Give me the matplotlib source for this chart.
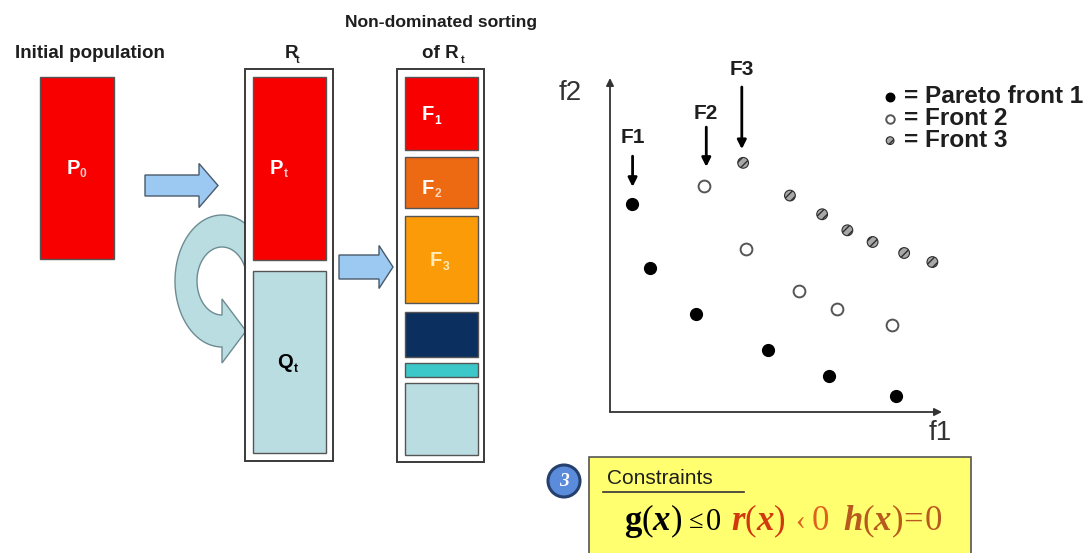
"""
NSGA-II style diagram: population -> R_t -> non-dominated sorting,
plus a small f1/f2 scatter of three Pareto fronts and a constraints box.
"""

import matplotlib
matplotlib.use("Agg")
import matplotlib.pyplot as plt
import numpy as np
from matplotlib.patches import Rectangle, Polygon, FancyArrow, Circle
from matplotlib.lines import Line2D

plt.rcParams["font.family"] = ["Liberation Sans", "DejaVu Sans"]
plt.rcParams["mathtext.fontset"] = "custom"
plt.rcParams["mathtext.rm"] = "Liberation Serif"
plt.rcParams["mathtext.it"] = "Liberation Serif:italic:bold"
plt.rcParams["mathtext.bf"] = "Liberation Serif:bold"

# ---------------------------------------------------------------- data
# objective values (f1, f2) of each front
front1_f1 = [0.65, 1.20, 2.58, 4.77, 6.60, 8.61]
front1_f2 = [6.22, 4.30, 2.94, 1.85, 1.09, 0.48]
front2_f1 = [2.84, 4.10, 5.68, 6.84, 8.49]
front2_f2 = [6.77, 4.88, 3.63, 3.09, 2.60]
front3_f1 = [4.01, 5.42, 6.39, 7.15, 7.91, 8.86, 9.71]
front3_f2 = [7.46, 6.48, 5.92, 5.44, 5.09, 4.76, 4.49]

front_names = ["F1", "F2", "F3"]
legend_labels = ["= Pareto front 1", "= Front 2", "= Front 3"]

# sorted sub-populations (top -> bottom) of R_t
sort_colors = ["#F80000", "#EE6A12", "#FB9B08", "#0B305F", "#3CC8C8", "#BADDE2"]

W, H = 1091, 553
RED = "#F80000"
LIGHT = "#BADDE2"
BLUE = "#9CC9F2"
EDGE = "#555555"
TXT = "#1E1E1E"

fig = plt.figure(figsize=(W / 100, H / 100), dpi=100)
fig.patch.set_facecolor("white")
ax = fig.add_axes([0, 0, 1, 1])
ax.set_xlim(0, W)
ax.set_ylim(H, 0)
ax.axis("off")


def box(x0, y0, x1, y1, color, ec=EDGE, lw=1.0, z=3):
    ax.add_patch(Rectangle((x0, y0), x1 - x0, y1 - y0, facecolor=color,
                           edgecolor=ec, lw=lw, zorder=z))


def sub_label(xm, ym, main, xs, sub, color, subcolor, size=14.5):
    ax.text(xm, ym, main, ha="center", va="center", color=color,
            fontsize=size, fontweight="bold", zorder=6)
    ax.text(xs, ym + 6, sub, ha="center", va="center", color=subcolor,
            fontsize=size * 0.6, fontweight="bold", zorder=6)


# ---------------------------------------------------------------- left part
ax.text(90, 53, "Initial population", ha="center", va="center",
        fontsize=13.5, fontweight="bold", color=TXT)
box(40, 77, 114, 259, RED)
sub_label(73, 168, "P", 83, "0", "white", "#F6C6C6")

ax.add_patch(FancyArrow(145, 185.5, 73, 0, width=21, head_width=44,
                        head_length=19, length_includes_head=True,
                        facecolor=BLUE, edgecolor="#4A5A6A", lw=1.0, zorder=3))

# curved (C-shaped) arrow feeding Q_t back, drawn under the R_t box
cx, cy = 222, 281
ang = np.radians(np.linspace(20, 270, 80))
outer = np.column_stack([cx + 47 * np.cos(ang), cy - 66 * np.sin(ang)])
inner = np.column_stack([cx + 25 * np.cos(ang), cy - 34 * np.sin(ang)])[::-1]
head = np.array([[222, 363], [246, 331], [222, 299]])
curve = np.vstack([outer, head, inner])
ax.add_patch(Polygon(curve, closed=True, facecolor=LIGHT,
                     edgecolor="#6C8C92", lw=1.0, zorder=1))

# R_t
ax.text(291, 53, "R", ha="center", va="center", fontsize=13.5,
        fontweight="bold", color=TXT)
ax.text(298, 60, "t", ha="center", va="center", fontsize=8,
        fontweight="bold", color=TXT)
box(245, 69, 333, 461, "white", ec="#3A3A3A", lw=1.4, z=2)
box(253, 77, 326, 260, RED)
box(253, 271, 326, 453, LIGHT)
sub_label(276, 168, "P", 286, "t", "white", "#F6C6C6")
sub_label(285, 363, "Q", 296, "t", "black", "black")

ax.add_patch(FancyArrow(339, 267, 54, 0, width=24, head_width=43,
                        head_length=14, length_includes_head=True,
                        facecolor=BLUE, edgecolor="#4A5A6A", lw=1.0, zorder=3))

# non-dominated sorting of R_t
ax.text(441, 22, "Non-dominated sorting", ha="center", va="center",
        fontsize=12.6, fontweight="bold", color=TXT)
ax.text(459, 53, "of R", ha="right", va="center", fontsize=13.5,
        fontweight="bold", color=TXT)
ax.text(463, 60, "t", ha="center", va="center", fontsize=8,
        fontweight="bold", color=TXT)
box(397, 69, 484, 462, "white", ec="#3A3A3A", lw=1.4, z=2)
sort_y = [(77, 150), (157, 208), (216, 303), (312, 357), (363, 377), (383, 455)]
for (y0, y1), c in zip(sort_y, sort_colors):
    box(405, y0, 478, y1, c)
sub_label(428, 115, "F", 438, "1", "white", "white")
sub_label(428, 188, "F", 438, "2", "white", "#FFD6B8")
sub_label(436, 261, "F", 446, "3", "#FFEBB8", "#FFEBB8")

# ---------------------------------------------------------------- scatter
sax = fig.add_axes([610 / W, 1 - 412 / H, 332 / W, 334 / H])
sax.set_xlim(0, 10)
sax.set_ylim(0, 10)
sax.axis("off")
sax.patch.set_alpha(0)

arrow_kw = dict(arrowstyle="-|>", color="#333333", lw=1.3, mutation_scale=11,
                shrinkA=0, shrinkB=0)
sax.annotate("", xy=(0, 1), xytext=(0, 0), xycoords="axes fraction",
             arrowprops=arrow_kw, annotation_clip=False)
sax.annotate("", xy=(1, 0), xytext=(0, 0), xycoords="axes fraction",
             arrowprops=arrow_kw, annotation_clip=False)

h1 = sax.scatter(front1_f1, front1_f2, s=72, color="black", zorder=3,
                 clip_on=False)
h2 = sax.scatter(front2_f1, front2_f2, s=72, facecolor="white",
                 edgecolor="#555555", lw=1.4, zorder=3, clip_on=False)
h3 = sax.scatter(front3_f1, front3_f2, s=60, facecolor="#A8A8A8",
                 edgecolor="#2E2E2E", lw=0.8, hatch="////", zorder=3,
                 clip_on=False)

# F1/F2/F3 pointers
lab_x = [0.68, 2.90, 3.97]
lab_y = [8.23, 8.95, 10.24]
arr_top = [7.66, 8.53, 9.73]
arr_tip = [6.74, 7.34, 7.87]
for name, lx, ly, at, ap in zip(front_names, lab_x, lab_y, arr_top, arr_tip):
    sax.text(lx, ly, name, ha="center", va="center", fontsize=15,
             fontweight="bold", color=TXT, clip_on=False)
    sax.annotate("", xy=(lx, ap), xytext=(lx, at), annotation_clip=False,
                 arrowprops=dict(arrowstyle="-|>", color="black", lw=2.0,
                                 mutation_scale=13, shrinkA=0, shrinkB=0))

ax.text(570, 93, "f2", ha="center", va="center", fontsize=20, color="#333333")
ax.text(940, 433, "f1", ha="center", va="center", fontsize=20, color="#333333")

leg = sax.legend([h1, h2, h3], legend_labels, loc="upper left",
                 bbox_to_anchor=(884 / W, 1 - 85 / H),
                 bbox_transform=fig.transFigure, frameon=False,
                 prop=dict(family="Liberation Sans", weight="bold", size=17.6),
                 markerscale=0.72, handlelength=0.5, handletextpad=0.3,
                 labelspacing=-0.04, borderpad=0, borderaxespad=0)
for t in leg.get_texts():
    t.set_color(TXT)

# ---------------------------------------------------------------- constraints
ax.add_patch(Rectangle((589, 457), 382, 110, facecolor="#FFFF70",
                       edgecolor="#555555", lw=1.2, zorder=2))
ax.add_patch(Circle((564, 481), 16, facecolor="#5B8CDB", edgecolor="#26406E",
                    lw=2.2, zorder=3))
ax.text(564, 482, "3", ha="center", va="center", color="white", fontsize=14,
        fontstyle="italic", fontweight="bold", family="Liberation Serif",
        zorder=4)
ax.text(607, 479, "Constraints", ha="left", va="center", fontsize=15,
        color=TXT, zorder=4)
ax.add_line(Line2D([603, 744], [492, 492], color="#333333", lw=1.2, zorder=4))

fs = 25
eq_y = 521
ax.text(624, eq_y, r"$\mathbf{g}(x)$", ha="left", va="center",
        fontsize=fs, color="black", zorder=4)
ax.text(689, eq_y + 1, "\u2264", ha="left", va="center", fontsize=fs - 6,
        family="Liberation Serif", color="black", zorder=4)
ax.text(705, eq_y + 1, r"$0$", ha="left", va="center", fontsize=fs - 3,
        color="black", zorder=4)
ax.text(731, eq_y, r"$r(x)$", ha="left", va="center", fontsize=fs,
        color="#D2380E", zorder=4)
ax.text(795, eq_y + 1, "\u2039", ha="left", va="center", fontsize=fs - 4,
        family="Liberation Serif", color="#E0601E", zorder=4)
ax.text(811, eq_y, r"$0$", ha="left", va="center", fontsize=fs,
        color="#E0601E", zorder=4)
ax.text(843, eq_y, r"$h(x)\!=\!0$", ha="left", va="center", fontsize=fs,
        color="#B85A1E", zorder=4)

fig.savefig("out.png", dpi=100, facecolor="white")
